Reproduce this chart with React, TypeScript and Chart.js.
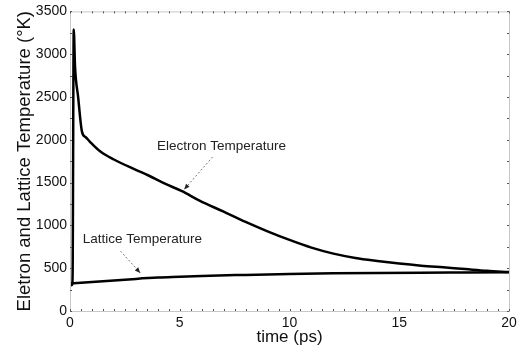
import React, { useEffect, useRef } from "react";
import { Chart, registerables } from "chart.js";

Chart.register(...registerables);

// Electron temperature (time in ps, temperature in K)
const electronTime = [0, 0.1, 0.12, 0.17, 0.23, 0.37, 0.55, 0.72, 0.9, 1.4, 2, 3, 3.6, 4.3, 5.1, 5.9, 7, 8, 9, 10, 11, 12, 13, 14, 15, 16, 17, 18, 19, 20];
const electronTemp = [300, 305, 450, 3290, 2850, 2500, 2090, 2030, 1980, 1860, 1770, 1650, 1580, 1490, 1400, 1290, 1160, 1040, 930, 830, 740, 670, 620, 585, 555, 530, 510, 490, 470, 455];

// Lattice temperature
const latticeTime = [0, 1, 2, 3, 4, 5, 6, 8, 10, 12, 14, 16, 18, 20];
const latticeTemp = [320, 338, 357, 375, 390, 400, 410, 422, 432, 440, 445, 448, 450, 452];

// Axis ticks
const xTickLabels = [0, 5, 10, 15, 20];
const yTickLabels = [0, 500, 1000, 1500, 2000, 2500, 3000, 3500];

// Annotations in data units
const annotationLabels = ["Electron Temperature", "Lattice Temperature"];
const annotationLabelX = [6.9, 3.3];
const annotationLabelY = [1930, 840];
const arrowFromX = [6.5, 2.3];
const arrowFromY = [1800, 700];
const arrowToX = [5.2, 3.2];
const arrowToY = [1420, 445];

const FONT = "'Liberation Sans', Arial, Helvetica, sans-serif";

const framePlugin = {
  id: "frame",
  afterDraw(chart: any) {
    const { ctx, chartArea } = chart;
    const { left, right, top, bottom } = chartArea;
    const xs = chart.scales.x;
    const ys = chart.scales.y;
    ctx.save();
    ctx.strokeStyle = "#c8c8c8";
    ctx.lineWidth = 1;
    ctx.strokeRect(left + 0.5, top + 0.5, right - left, bottom - top);
    ctx.strokeStyle = "#555";
    ctx.lineWidth = 1;
    ctx.beginPath();
    for (let v = 0; v <= 20.001; v += 0.5) {
      const px = Math.round(xs.getPixelForValue(v)) + 0.5;
      ctx.moveTo(px, bottom);
      ctx.lineTo(px, bottom - 2);
      ctx.moveTo(px, top);
      ctx.lineTo(px, top + 2);
    }
    for (let v = 0; v <= 3500; v += 250) {
      const py = Math.round(ys.getPixelForValue(v)) + 0.5;
      ctx.moveTo(left, py);
      ctx.lineTo(left + 2, py);
      ctx.moveTo(right, py);
      ctx.lineTo(right - 2, py);
    }
    ctx.stroke();

    for (let i = 0; i < annotationLabels.length; i++) {
      const lx = xs.getPixelForValue(annotationLabelX[i]);
      const ly = ys.getPixelForValue(annotationLabelY[i]);
      ctx.fillStyle = "#222";
      ctx.font = `13.5px ${FONT}`;
      ctx.textAlign = "center";
      ctx.textBaseline = "middle";
      ctx.fillText(annotationLabels[i], lx, ly);

      const fx = xs.getPixelForValue(arrowFromX[i]);
      const fy = ys.getPixelForValue(arrowFromY[i]);
      const tx = xs.getPixelForValue(arrowToX[i]);
      const ty = ys.getPixelForValue(arrowToY[i]);
      ctx.strokeStyle = "#777";
      ctx.lineWidth = 1;
      ctx.setLineDash([2, 2]);
      ctx.beginPath();
      ctx.moveTo(fx, fy);
      ctx.lineTo(tx, ty);
      ctx.stroke();
      ctx.setLineDash([]);
      const ang = Math.atan2(ty - fy, tx - fx);
      const hl = 6;
      ctx.fillStyle = "#222";
      ctx.beginPath();
      ctx.moveTo(tx, ty);
      ctx.lineTo(tx - hl * Math.cos(ang - 0.4), ty - hl * Math.sin(ang - 0.4));
      ctx.lineTo(tx - hl * Math.cos(ang + 0.4), ty - hl * Math.sin(ang + 0.4));
      ctx.closePath();
      ctx.fill();
    }
    ctx.restore();
  },
};

export default function App() {
  const ref = useRef<HTMLCanvasElement>(null);

  useEffect(() => {
    document.body.style.margin = "0";
    const canvas = ref.current;
    if (!canvas) return;
    const electron = electronTime.map((t, i) => ({ x: t, y: electronTemp[i] }));
    const lattice = latticeTime.map((t, i) => ({ x: t, y: latticeTemp[i] }));
    const chart = new Chart(canvas, {
      type: "line",
      data: {
        datasets: [
          {
            label: "Electron Temperature",
            data: electron,
            borderColor: "#000",
            borderWidth: 2.5,
            pointRadius: 0,
            cubicInterpolationMode: "monotone",
            fill: false,
          },
          {
            label: "Lattice Temperature",
            data: lattice,
            borderColor: "#000",
            borderWidth: 2.5,
            pointRadius: 0,
            cubicInterpolationMode: "monotone",
            fill: false,
          },
        ],
      },
      options: {
        animation: false,
        responsive: false,
        devicePixelRatio: 1,
        layout: { padding: { top: 11, right: 15, left: 0, bottom: 0 } },
        plugins: {
          legend: { display: false },
          tooltip: { enabled: false },
        },
        scales: {
          x: {
            type: "linear",
            min: 0,
            max: 20,
            afterBuildTicks: (s: any) => {
              s.ticks = xTickLabels.map((v) => ({ value: v }));
            },
            afterFit: (s: any) => {
              s.height = 38;
            },
            grid: { display: false, drawTicks: false },
            border: { display: false },
            ticks: {
              color: "#111",
              font: { family: FONT, size: 14 },
              padding: 4,
              maxRotation: 0,
              callback: (v: any) => String(v),
            },
            title: {
              display: true,
              text: "time (ps)",
              color: "#111",
              font: { family: FONT, size: 17 },
              padding: { top: 0, bottom: 1 },
            },
          },
          y: {
            type: "linear",
            min: 0,
            max: 3500,
            afterBuildTicks: (s: any) => {
              s.ticks = yTickLabels.map((v) => ({ value: v }));
            },
            afterFit: (s: any) => {
              s.width = 70;
            },
            grid: { display: false, drawTicks: false },
            border: { display: false },
            ticks: {
              color: "#111",
              font: { family: FONT, size: 14 },
              padding: 3,
              callback: (v: any) => String(v),
            },
            title: {
              display: true,
              text: "Eletron and Lattice Temperature (°K)",
              color: "#111",
              font: { family: FONT, size: 18.5 },
              padding: { top: 14, bottom: 0 },
            },
          },
        },
      },
      plugins: [framePlugin],
    });
    return () => chart.destroy();
  }, []);

  return (
    <div style={{ width: 524, height: 349, background: "#fff" }}>
      <canvas ref={ref} width={524} height={349} style={{ display: "block" }} />
    </div>
  );
}
